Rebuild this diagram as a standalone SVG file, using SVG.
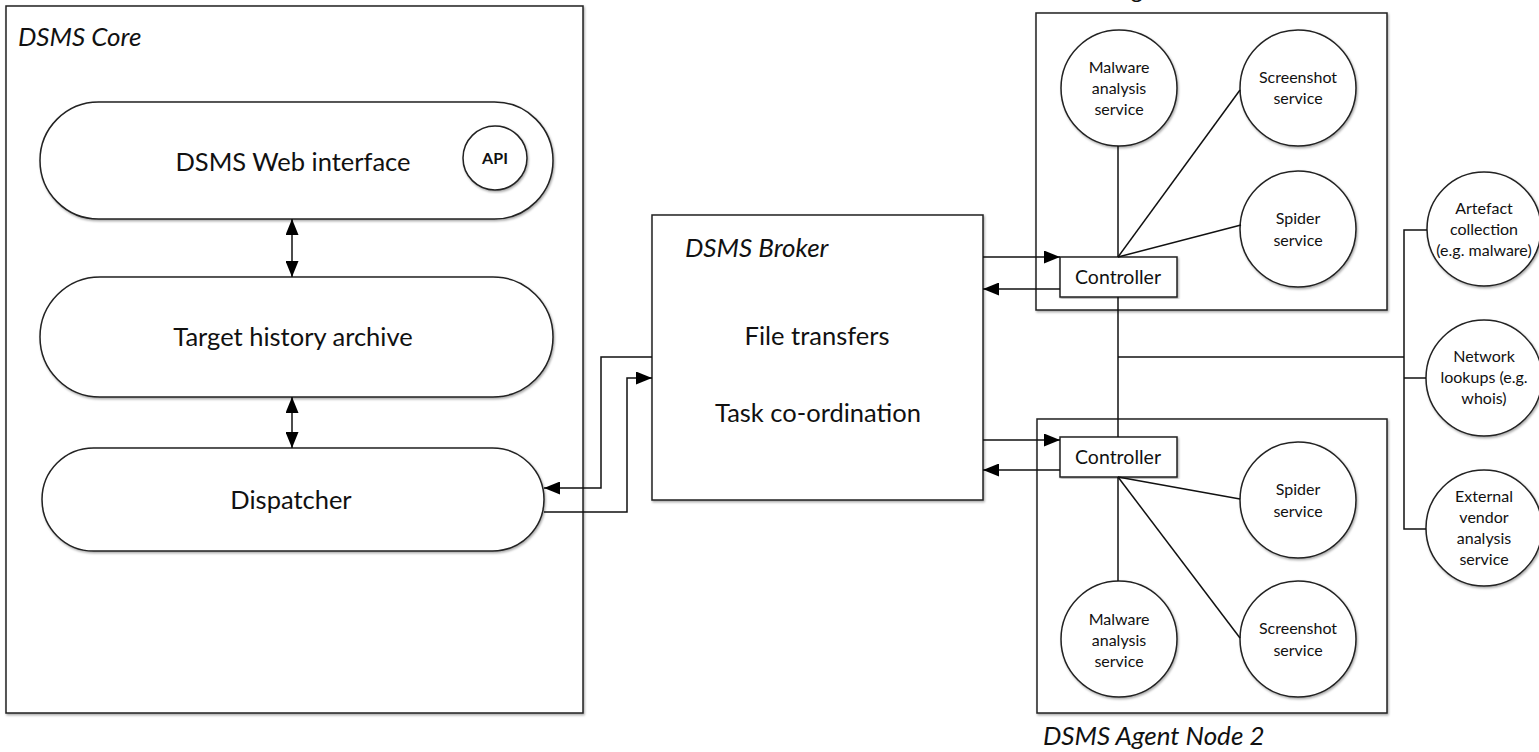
<svg xmlns="http://www.w3.org/2000/svg" width="1539" height="752" viewBox="0 0 1539 752">
<defs>
<marker id="arr" viewBox="0 0 16 13" refX="16" refY="6.5" markerWidth="16" markerHeight="13" markerUnits="userSpaceOnUse" orient="auto-start-reverse">
<path d="M0,0 L16,6.5 L0,13 z" fill="#000"/>
</marker>
<filter id="sh" x="-5%" y="-5%" width="110%" height="110%">
<feDropShadow dx="1" dy="1.5" stdDeviation="1" flood-color="#000" flood-opacity="0.35"/>
</filter>
<style>
.box{fill:#fff;stroke:#222;stroke-width:1.5;filter:url(#sh)}
.ln{fill:none;stroke:#111;stroke-width:1.5}
.ar{marker-end:url(#arr)}
.t{font-family:Lato,"Open Sans","Liberation Sans",sans-serif;fill:#111;text-anchor:middle}
.big{font-size:25.5px}
.ttl{font-family:Lato,"Open Sans","Liberation Sans",sans-serif;font-style:italic;font-size:26px;fill:#111}
.sm{font-size:16px}
.ctl{font-size:19.5px}
</style>
</defs>
<rect width="1539" height="752" fill="#fff"/>

<g id="dsms-core">
<rect class="box" x="6" y="6" width="577" height="707"/>
<text class="ttl" x="18" y="46">DSMS Core</text>
</g>
<g id="web-interface">
<rect class="box" x="40" y="102" width="513" height="117" rx="58.5"/>
<text class="t big" x="293" y="171">DSMS Web interface</text>
</g>
<g id="api">
<circle class="box" cx="495" cy="158" r="32"/>
<text class="t" x="495" y="164" font-size="16" font-weight="bold">API</text>
</g>
<g id="target-history">
<rect class="box" x="40" y="277" width="513" height="120" rx="60"/>
<text class="t big" x="293" y="346">Target history archive</text>
</g>
<g id="dispatcher">
<rect class="box" x="42" y="448" width="502" height="103" rx="51.5"/>
<text class="t big" x="291" y="509">Dispatcher</text>
</g>

<g id="broker">
<rect class="box" x="652" y="215" width="331" height="285"/>
<text class="ttl" x="685" y="257">DSMS Broker</text>
<text class="t big" x="817" y="345">File transfers</text>
<text class="t big" x="818" y="422">Task co-ordination</text>
</g>

<g id="agent-node-1">
<rect class="box" x="1036" y="13" width="351" height="297"/>
<text class="ttl" x="1043" y="-2">DSMS Agent Node 1</text>
</g>
<g id="malware-1">
<circle class="box" cx="1119" cy="88" r="58"/>
<text class="t sm" x="1119" y="73">Malware</text>
<text class="t sm" x="1119" y="94">analysis</text>
<text class="t sm" x="1119" y="115">service</text>
</g>
<g id="screenshot-1">
<circle class="box" cx="1298" cy="88" r="58"/>
<text class="t sm" x="1298" y="83">Screenshot</text>
<text class="t sm" x="1298" y="104">service</text>
</g>
<g id="spider-1">
<circle class="box" cx="1298" cy="229" r="58"/>
<text class="t sm" x="1298" y="224">Spider</text>
<text class="t sm" x="1298" y="246">service</text>
</g>
<g id="controller-1">
<rect class="box" x="1060" y="257" width="117" height="40"/>
<text class="t ctl" x="1118" y="284">Controller</text>
</g>

<g id="agent-node-2">
<rect class="box" x="1037" y="419" width="350" height="294"/>
<text class="ttl" x="1043" y="745">DSMS Agent Node 2</text>
</g>
<g id="controller-2">
<rect class="box" x="1060" y="437" width="117" height="40"/>
<text class="t ctl" x="1118" y="464">Controller</text>
</g>
<g id="spider-2">
<circle class="box" cx="1298" cy="500" r="58"/>
<text class="t sm" x="1298" y="495">Spider</text>
<text class="t sm" x="1298" y="517">service</text>
</g>
<g id="malware-2">
<circle class="box" cx="1119" cy="639" r="58"/>
<text class="t sm" x="1119" y="625">Malware</text>
<text class="t sm" x="1119" y="646">analysis</text>
<text class="t sm" x="1119" y="667">service</text>
</g>
<g id="screenshot-2">
<circle class="box" cx="1298" cy="639" r="58"/>
<text class="t sm" x="1298" y="634">Screenshot</text>
<text class="t sm" x="1298" y="656">service</text>
</g>

<g id="artefact-collection">
<circle class="box" cx="1484" cy="229" r="57"/>
<text class="t sm" x="1484" y="214">Artefact</text>
<text class="t sm" x="1484" y="235">collection</text>
<text class="t sm" x="1484" y="256">(e.g. malware)</text>
</g>
<g id="network-lookups">
<circle class="box" cx="1484" cy="378" r="58"/>
<text class="t sm" x="1484" y="362">Network</text>
<text class="t sm" x="1484" y="383">lookups (e.g.</text>
<text class="t sm" x="1484" y="404">whois)</text>
</g>
<g id="external-vendor">
<circle class="box" cx="1484" cy="528" r="58"/>
<text class="t sm" x="1484" y="502">External</text>
<text class="t sm" x="1484" y="523">vendor</text>
<text class="t sm" x="1484" y="544">analysis</text>
<text class="t sm" x="1484" y="565">service</text>
</g>

<g id="connectors">
<path class="ln" d="M292,219 V277" marker-start="url(#arr)" marker-end="url(#arr)"/>
<path class="ln" d="M292,397 V448" marker-start="url(#arr)" marker-end="url(#arr)"/>
<path class="ln ar" d="M652,357 H601 V488 H544"/>
<path class="ln ar" d="M544,512 H627 V378 H652"/>
<path class="ln ar" d="M983,257 H1060"/>
<path class="ln ar" d="M1060,289 H983"/>
<path class="ln ar" d="M983,440 H1060"/>
<path class="ln ar" d="M1060,470 H983"/>
<path class="ln" d="M1118,257 V146"/>
<path class="ln" d="M1118,257 L1240,90"/>
<path class="ln" d="M1118,257 L1241,225"/>
<path class="ln" d="M1118,297 V437"/>
<path class="ln" d="M1118,357 H1404"/>
<path class="ln" d="M1427,230 H1404 V529 H1426"/>
<path class="ln" d="M1404,378 H1426"/>
<path class="ln" d="M1118,477 L1240,499"/>
<path class="ln" d="M1118,477 V581"/>
<path class="ln" d="M1118,477 L1240,638"/>
</g>
</svg>
